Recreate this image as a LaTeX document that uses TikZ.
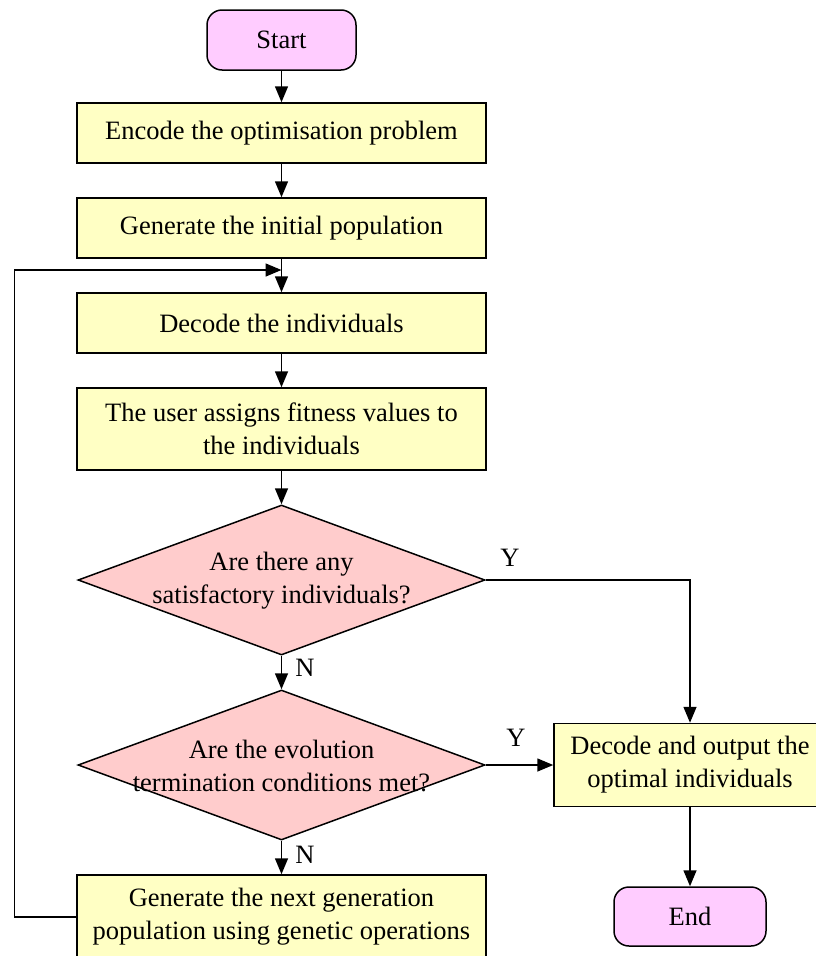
\documentclass[tikz,border=0pt]{standalone}
\usepackage{fontspec}
\setmainfont{Liberation Serif}
\usetikzlibrary{shapes.geometric,arrows.meta}
\definecolor{procfill}{RGB}{255,255,196}
\definecolor{termfill}{RGB}{255,204,255}
\definecolor{decfill}{RGB}{255,204,204}
\tikzset{
  every node/.style={font=\rmfamily\fontsize{26.5}{33}\selectfont},
  flow/.style={line width=1.5pt, -{Triangle[length=16pt,width=13pt]}},
  procbox/.style={draw, line width=1.5pt, fill=procfill, align=center,
    minimum width=409pt, inner sep=0pt},
  termbox/.style={draw, line width=1.5pt, fill=termfill, rounded corners=15pt,
    inner sep=0pt},
  decision/.style={draw, shape=diamond, line width=1.5pt, fill=decfill,
    minimum width=407pt, minimum height=150pt, inner sep=0pt},
  dectext/.style={align=center, inner sep=0pt},
  branch/.style={inner sep=0pt}
}
\begin{document}
\begin{tikzpicture}[x=1pt,y=-1pt]
\useasboundingbox (0,0) rectangle (816,956);
\clip (0,0) rectangle (816,956);

% main column
\node[termbox, minimum width=149pt, minimum height=60pt] (start) at (281.5,40) {Start};
\node[procbox, minimum height=60pt] (encode) at (281.5,133) {Encode the optimisation problem};
\node[procbox, minimum height=60pt] (init) at (281.5,228) {Generate the initial population};
\node[procbox, minimum height=60pt] (decode) at (281.5,323) {Decode the individuals};
\node[procbox, minimum height=82pt] (assign) at (281.5,429) {The user assigns fitness values to\\the individuals};
\node[decision] (sat) at (281.5,580) {};
\node[dectext] (sattext) at (281.5,581) {Are there any\\satisfactory individuals?};
\node[decision] (term) at (281.5,765) {};
\node[dectext] (termtext) at (281.5,766) {Are the evolution\\termination conditions met?};
\node[procbox, minimum height=84pt] (next) at (281.5,917) {Generate the next generation\\population using genetic operations};

% output column
\node[procbox, minimum width=272pt, minimum height=83pt] (output) at (690,765) {Decode and output the\\optimal individuals};
\node[termbox, minimum width=152pt, minimum height=59pt] (finish) at (690,916.5) {End};

% merge point of the loop
\coordinate (merge) at (281.5,270);

% connectors
\draw[flow] (start) -- (encode);
\draw[flow] (encode) -- (init);
\draw[flow] (init) -- (decode);
\draw[flow] (decode) -- (assign);
\draw[flow] (assign) -- (sat);
\draw[flow] (sat.south) -- (term.north);
\draw[flow] (term.south) -- (next.north);
\draw[flow] (sat.east) -| (output.north);
\draw[flow] (term.east) -- (output.west);
\draw[flow] (output) -- (finish);
\draw[flow] (next.west) -- ++(-62,0) |- (merge);

% branch labels
\node[branch] (ysat) at (510,558) {Y};
\node[branch] (yterm) at (516,738) {Y};
\node[branch] (nsat) at (305,668) {N};
\node[branch] (nterm) at (305,855) {N};
\end{tikzpicture}
\end{document}
